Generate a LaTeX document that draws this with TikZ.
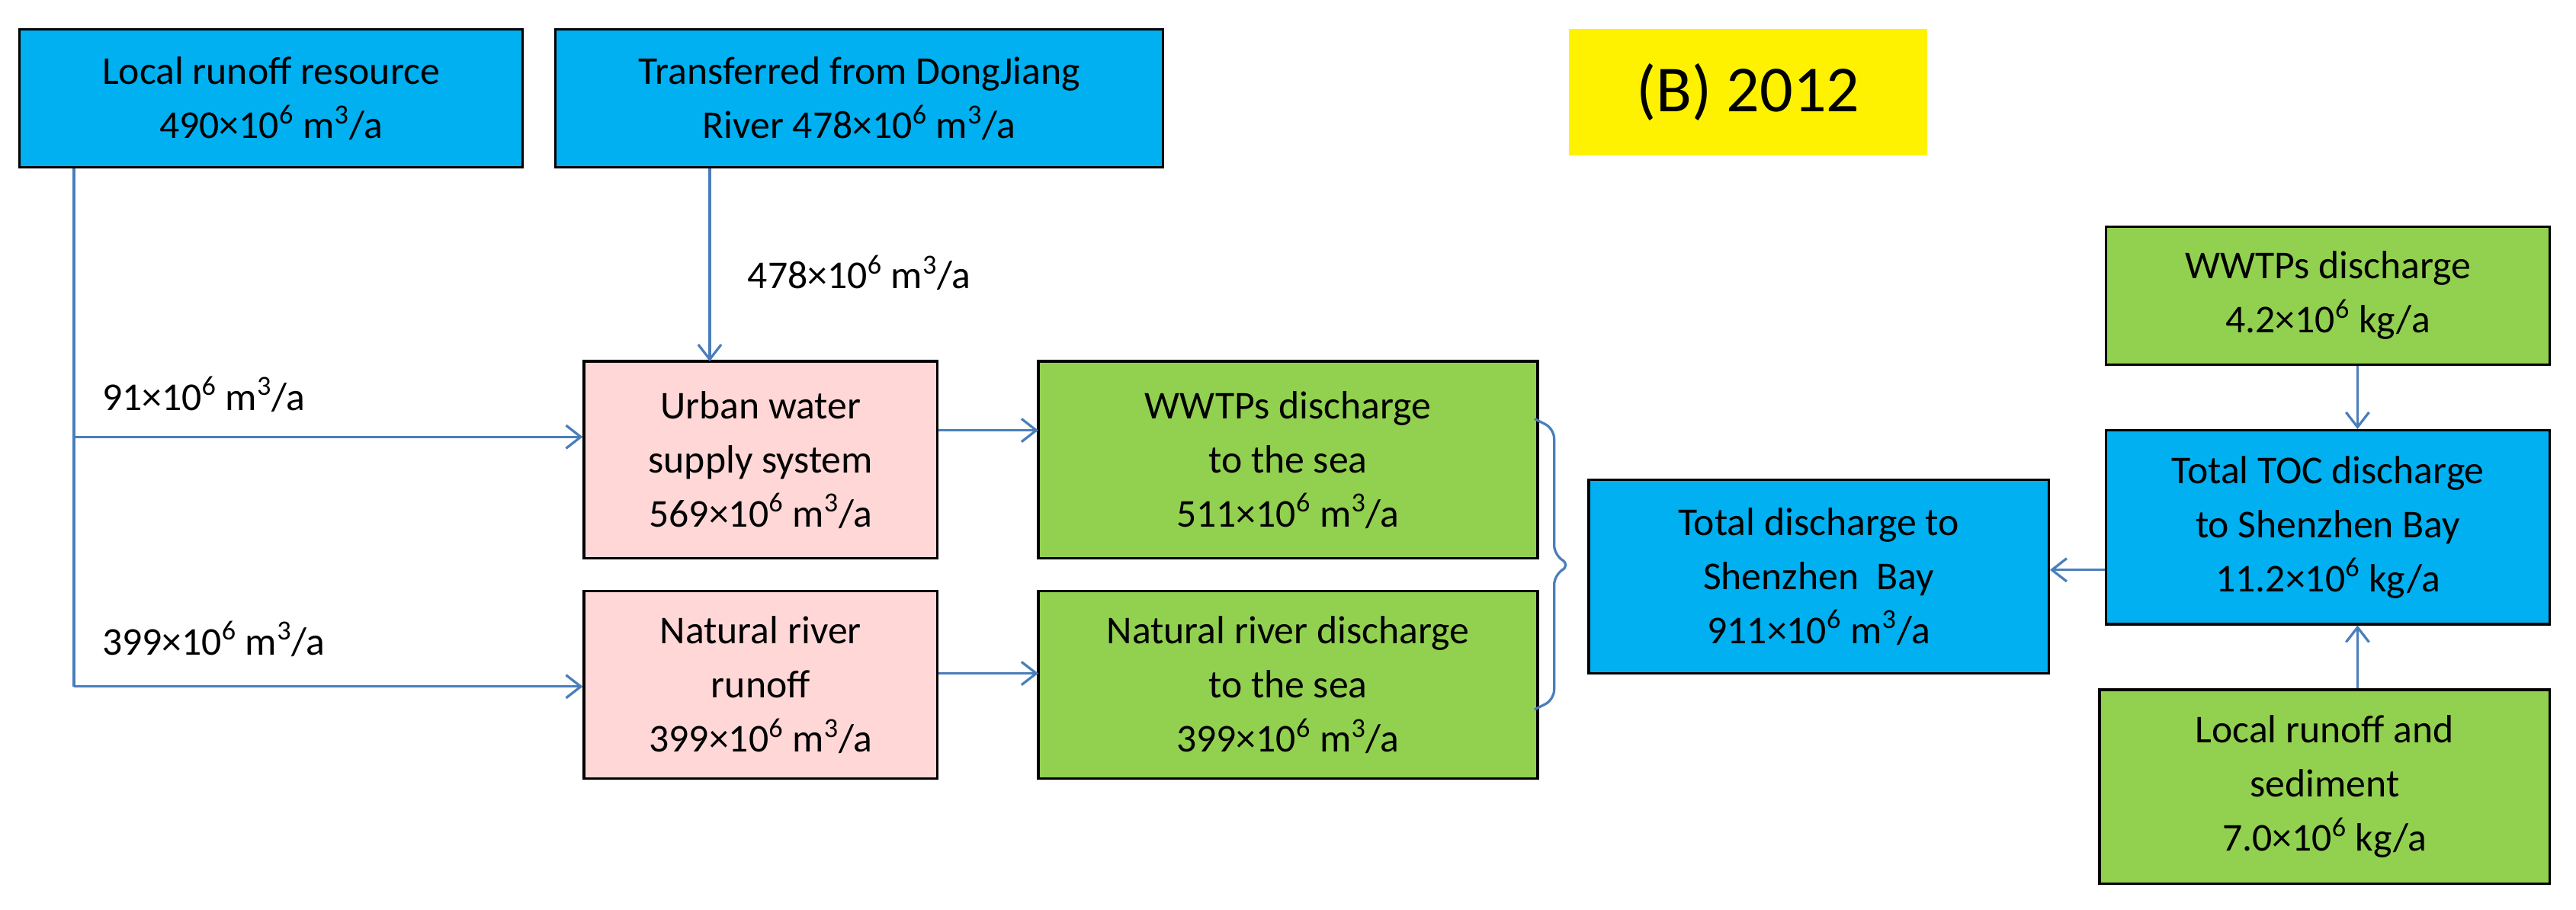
\documentclass[tikz,border=0pt]{standalone}
\usepackage{fontspec}
\setmainfont{Carlito}
\usetikzlibrary{positioning,arrows.meta}
\definecolor{skyb}{HTML}{00B0F0}
\definecolor{leaf}{HTML}{92D050}
\definecolor{rose}{HTML}{FFD7D7}
\definecolor{flow}{HTML}{4A7EBB}
\newcommand{\uu}[1]{#1\texttimes10\textsuperscript{6} m\textsuperscript{3}/a}
\newcommand{\kg}[1]{#1\texttimes10\textsuperscript{6} kg/a}
\begin{document}
\begin{tikzpicture}[x=1pt,y=-1pt,
box/.style={draw=black,line width=1.5pt,align=center,font=\fontsize{24}{33}\selectfont,inner sep=0pt},
src/.style={box,fill=skyb},
mid/.style={box,fill=rose},
sink/.style={box,fill=leaf},
lbl/.style={font=\fontsize{24}{30}\selectfont,anchor=west,inner sep=0pt},
arr/.style={draw=flow,line width=1.5pt,-{Straight Barb[length=9pt,width=14pt]}}
]
\useasboundingbox (0,0) rectangle (1568,554);

%%% sources
\node[src,minimum width=306,minimum height=84] (loc) at (165,60) {Local runoff resource\\\uu{490}};
\node[src,minimum width=370,minimum height=84] (trf) at (523,60) {Transferred from DongJiang\\River \uu{478}};
\node[fill=yellow,minimum width=218,minimum height=77,font=\fontsize{40}{48}\selectfont] (yr) at (1064,56) {(B) 2012};

%%% middle
\node[mid,minimum width=215,minimum height=120] (urb) at (463,280) {Urban water\\supply system\\\uu{569}};
\node[mid,minimum width=215,minimum height=114] (nat) at (463,417) {Natural river\\runoff\\\uu{399}};
\node[sink,minimum width=304,minimum height=120] (wws) at (784,280) {WWTPs discharge\\to the sea\\\uu{511}};
\node[sink,minimum width=304,minimum height=114] (nds) at (784,417) {Natural river discharge\\to the sea\\\uu{399}};
\node[src,minimum width=280,minimum height=118] (tot) at (1107,351) {Total discharge to\\Shenzhen~ Bay\\\uu{911}};

%%% TOC
\node[sink,minimum width=270,minimum height=84] (wwk) at (1417,180) {WWTPs discharge\\\kg{4.2}};
\node[src,minimum width=270,minimum height=118] (toc) at (1417,321) {Total TOC discharge\\to Shenzhen Bay\\\kg{11.2}};
\node[sink,minimum width=274,minimum height=118] (sed) at (1415,479) {Local runoff and\\sediment\\\kg{7.0}};

%%% connectors
\coordinate (split) at (45,266);
\coordinate (turn) at (45,418);
\draw[flow,line width=1.5pt] (loc.south -| split) -- (turn);
\draw[arr] (split) -- (split -| urb.west);
\draw[arr] (turn) -- (turn -| nat.west);
\draw[arr] (trf.south -| 432,0) -- (432,220);
\draw[arr] (571,262) -- (632,262);
\draw[arr] (571,410) -- (632,410);
\draw[arr] (toc.west |- 0,347) -- (tot.east |- 0,347);
\draw[arr] (wwk.south -| 1435,0) -- (toc.north -| 1435,0);
\draw[arr] (sed.north -| 1435,0) -- (toc.south -| 1435,0);
\draw[flow,line width=1.5pt,rounded corners=6pt] (934,255) -- (946,261) -- (946,338) -- (956,344) -- (946,350) -- (946,426) -- (934,432);

\node[lbl] (l91) at (62,240) {\uu{91}};
\node[lbl] (l399) at (62,389) {\uu{399}};
\node[lbl] (l478) at (455,166) {\uu{478}};
\end{tikzpicture}
\end{document}
